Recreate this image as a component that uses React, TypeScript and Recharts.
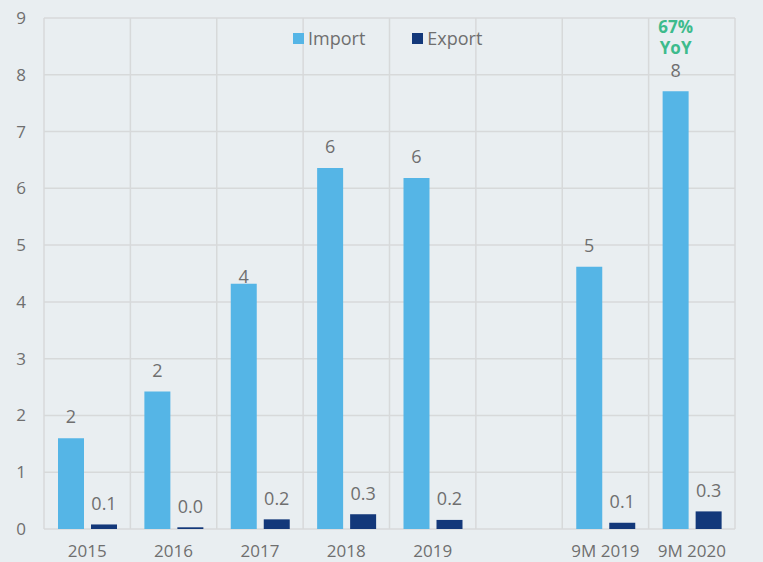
import React from "react"
import {
  Bar,
  BarChart,
  CartesianGrid,
  LabelList,
  Legend,
  XAxis,
  YAxis,
} from "recharts"

const categories = ["2015", "2016", "2017", "2018", "2019", "", "9M 2019", "9M 2020"]
const importValues = [1.6, 2.42, 4.32, 6.36, 6.18, null, 4.62, 7.71]
const exportValues = [0.08, 0.03, 0.17, 0.26, 0.16, null, 0.11, 0.31]
const yTicks = [0, 1, 2, 3, 4, 5, 6, 7, 8, 9]
const seriesOrder = ["Import", "Export"]
const growthNote = ["67%", "YoY"]

const data = categories.map((name, i) => ({
  name,
  Import: importValues[i],
  Export: exportValues[i],
}))

const FONT = "'Open Sans', 'Noto Sans', sans-serif"
const TEXT = "#6f6f6f"
const IMPORT_COLOR = "#55b5e6"
const EXPORT_COLOR = "#13387a"
const GREEN = "#3dbb8c"

function makeLabel(digits: number, values: (number | null)[], withNote: boolean) {
  return (props: any) => {
    const { x, y, width, value } = props
    if (value == null) return null
    const idx = values.indexOf(Number(value))
    const cx = Number(x) + Number(width) / 2
    // 2017 label sits right on top of its bar in the original
    const lift = withNote && idx === 2 ? 7 : 21
    const cy = Number(y) - lift
    const last = withNote && idx === values.length - 1
    return (
      <g>
        <text x={cx} y={cy} dy="0.35em" textAnchor="middle" fill={TEXT} fontSize={18} fontFamily={FONT}>
          {Number(value).toFixed(digits)}
        </text>
        {last &&
          growthNote.map((t, k) => (
            <text
              key={t}
              x={cx}
              y={cy - 43 + k * 21}
              dy="0.35em"
              textAnchor="middle"
              fill={GREEN}
              fontSize={17}
              fontWeight={700}
              fontFamily={FONT}
            >
              {t}
            </text>
          ))}
      </g>
    )
  }
}

function LegendContent(props: any) {
  const items = [...(props.payload || [])].sort(
    (a: any, b: any) => seriesOrder.indexOf(a.value) - seriesOrder.indexOf(b.value)
  )
  return (
    <div style={{ display: "flex", alignItems: "center", fontFamily: FONT, fontSize: 18, color: TEXT }}>
      {items.map((item: any, i: number) => (
        <div key={item.value} style={{ display: "flex", alignItems: "center", marginRight: i === 0 ? 47 : 0 }}>
          <span style={{ width: 11, height: 11, background: item.color, display: "inline-block", marginRight: 4 }} />
          <span>{item.value}</span>
        </div>
      ))}
    </div>
  )
}

export default function App() {
  return (
    <div style={{ position: "absolute", left: 0, top: 0, width: 763, height: 562, background: "#e9eef1" }}>
      <BarChart
        width={763}
        height={562}
        data={data}
        margin={{ top: 18, right: 28, bottom: 0, left: 0 }}
        barSize={26}
        barGap={7}
      >
        <CartesianGrid
          stroke="#d7d9da"
          strokeWidth={1.5}
          verticalCoordinatesGenerator={({ offset }: any) =>
            categories.map((_, i) => offset.left + (i * offset.width) / categories.length).concat(offset.left + offset.width)
          }
        />
        <XAxis
          dataKey="name"
          axisLine={false}
          tickLine={false}
          tickSize={0}
          tickMargin={16}
          height={33}
          interval={0}
          tick={{ fill: TEXT, fontSize: 17, fontFamily: FONT }}
        />
        <YAxis
          domain={[0, 9]}
          ticks={yTicks}
          axisLine={false}
          tickLine={false}
          tickSize={0}
          tickMargin={18}
          width={44}
          tick={{ fill: TEXT, fontSize: 17, fontFamily: FONT }}
        />
        <Legend
          layout="vertical"
          align="center"
          verticalAlign="middle"
          content={<LegendContent />}
          wrapperStyle={{ top: 26, left: 293, width: "auto" }}
        />
        <Bar dataKey="Import" fill={IMPORT_COLOR} isAnimationActive={false}>
          <LabelList dataKey="Import" content={makeLabel(0, importValues, true)} />
        </Bar>
        <Bar dataKey="Export" fill={EXPORT_COLOR} isAnimationActive={false}>
          <LabelList dataKey="Export" content={makeLabel(1, exportValues, false)} />
        </Bar>
      </BarChart>
    </div>
  )
}
